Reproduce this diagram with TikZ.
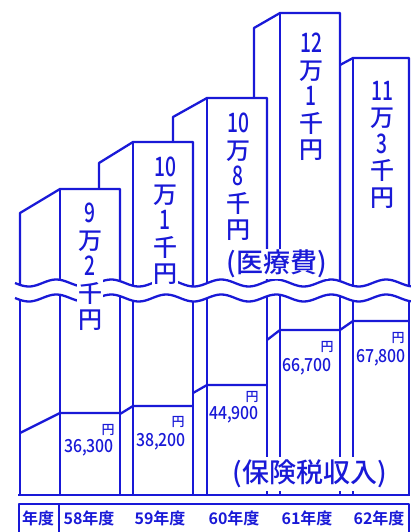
\documentclass[tikz,border=0pt]{standalone}
\usepackage{fontspec}
\setmainfont{Noto Sans CJK JP}[UprightFont=* Medium,BoldFont=* Bold]
\usepackage{graphicx}
\definecolor{ink}{RGB}{25,25,215}
\newcommand\Dg[1]{\scalebox{0.8}[1.12]{#1}}
\newcommand\Vl[1]{\scalebox{0.88}[1]{#1}}
\begin{document}
\begin{tikzpicture}[x=1pt,y=-1pt,line join=round,
  bar/.style={ink,line width=2.3pt},
  heavy/.style={ink,line width=2.8pt},
  lbl/.style={ink,inner sep=1pt,fill=white,align=center,anchor=north,font=\fontsize{24}{26.5}\selectfont},
  val/.style={ink,inner sep=0pt,font=\fontsize{18}{18}\selectfont},
  yen/.style={ink,inner sep=0pt,font=\fontsize{13}{13}\selectfont},
  yr/.style={ink,inner sep=0pt,font=\bfseries\fontsize{16}{16}\selectfont},
  big/.style={ink,fill=white,font=\fontsize{27}{27}\selectfont}]
\useasboundingbox (0,0) rectangle (411,532);
\clip (0,0) rectangle (411,532);
% upper part of bars (above the break)
\begin{scope}
\clip (0,-5) -- (411,-5) -- plot[domain=411:0,samples=150] (\x,{283+3.5*sin(6.5455*(\x-70))}) -- cycle;
\draw[bar] (20,300) -- (20,213) -- (60,189) -- (120,189) -- (120,300);
\draw[bar] (60,189) -- (60,300);
\draw[bar] (99,189) -- (99,163) -- (133,142) -- (193,142) -- (193,300);
\draw[bar] (133,142) -- (133,300);
\draw[bar] (173,142) -- (173,117) -- (207,98) -- (267,98) -- (267,300);
\draw[bar] (207,98) -- (207,300);
\draw[bar] (254,98) -- (254,28) -- (280,13) -- (340,13) -- (340,300);
\draw[bar] (280,13) -- (280,300);
\draw[bar] (340,65) -- (353,58) -- (409,58) -- (409,300);
\draw[bar] (353,58) -- (353,300);
\end{scope}
% lower part of bars (below the break)
\begin{scope}
\clip (0,540) -- (411,540) -- plot[domain=411:0,samples=150] (\x,{298+3.5*sin(6.5455*(\x-70))}) -- cycle;
\foreach \xx in {20,60,120,133,193,207,267,280,340,353,409}
  \draw[bar] (\xx,285) -- (\xx,495);
\draw[bar] (20,433) -- (60,413) -- (120,413);
\draw[bar] (120,414) -- (133,406) -- (193,406);
\draw[bar] (193,393) -- (207,385) -- (267,385);
\draw[bar] (267,340) -- (280,330) -- (340,330);
\draw[bar] (340,330) -- (353,321) -- (409,321);
\end{scope}
% break lines
\draw[bar] plot[domain=15:411,samples=150] (\x,{283+3.5*sin(6.5455*(\x-70))});
\draw[bar] plot[domain=15:411,samples=150] (\x,{298+3.5*sin(6.5455*(\x-70))});
% base line and year table
\draw[heavy] (18,495) -- (410,495);
\draw[heavy] (19,545) -- (19,504) -- (409,504) -- (409,545);
\draw[heavy] (59,504) -- (59,545);
% medical cost labels
\node[lbl] (b1) at (90,202) {\Dg{9}\\万\\\Dg{2}\\千\\円};
\node[lbl] (b2) at (165,156) {\Dg{10}\\万\\\Dg{1}\\千\\円};
\node[lbl] (b3) at (238,112) {\Dg{10}\\万\\\Dg{8}\\千\\円};
\node[lbl] (b4) at (311,32) {\Dg{12}\\万\\\Dg{1}\\千\\円};
\node[lbl] (b5) at (382,80) {\Dg{11}\\万\\\Dg{3}\\千\\円};
\node[big,inner sep=1pt] (med) at (277,264) {(医療費)};
% insurance tax labels
\node[yen] (y1) at (108,430) {円};
\node[val] (v1) at (89,448) {\Vl{36,300}};
\node[yen] (y2) at (178,422) {円};
\node[val] (v2) at (161,442) {\Vl{38,200}};
\node[yen] (y3) at (252,397) {円};
\node[val] (v3) at (234,415) {\Vl{44,900}};
\node[yen] (y4) at (327,347) {円};
\node[val] (v4) at (307,367) {\Vl{66,700}};
\node[yen] (y5) at (398,338) {円};
\node[val] (v5) at (381,358) {\Vl{67,800}};
\node[big,inner sep=3pt] (ins) at (310,474) {(保険税収入)};
% year row
\node[yr] (h0) at (38,518) {年度};
\node[yr] (h1) at (89,518) {58年度};
\node[yr] (h2) at (160,518) {59年度};
\node[yr] (h3) at (234,518) {60年度};
\node[yr] (h4) at (307,518) {61年度};
\node[yr] (h5) at (379,518) {62年度};
\end{tikzpicture}
\end{document}
